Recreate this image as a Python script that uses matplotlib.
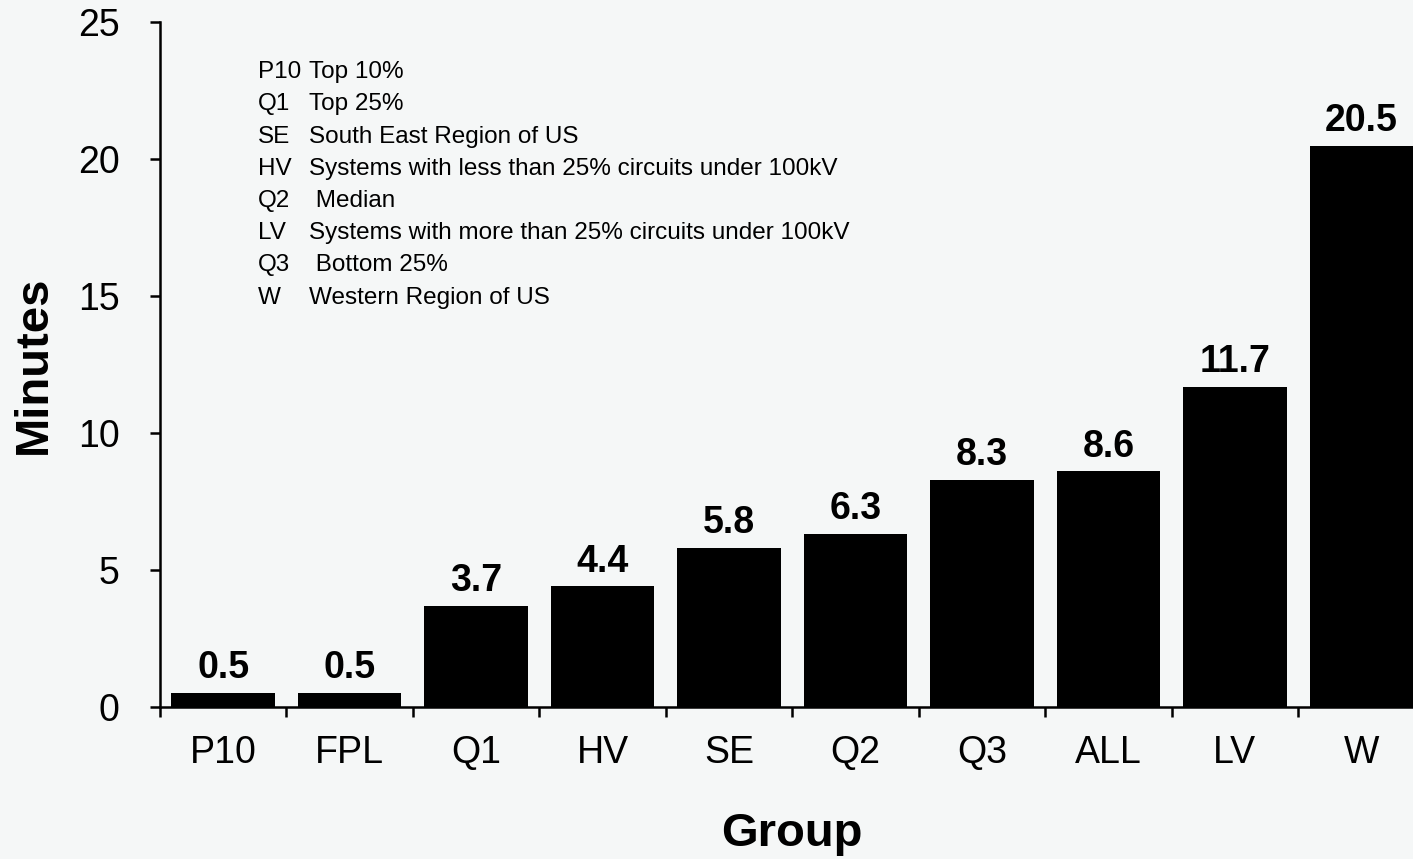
import matplotlib
matplotlib.use("Agg")
import matplotlib.pyplot as plt
import numpy as np

# data
groups = ["P10", "FPL", "Q1", "HV", "SE", "Q2", "Q3", "ALL", "LV", "W"]
minutes = [0.5, 0.5, 3.7, 4.4, 5.8, 6.3, 8.3, 8.6, 11.7, 20.5]
labels = ["0.5", "0.5", "3.7", "4.4", "5.8", "6.3", "8.3", "8.6", "11.7", "20.5"]

key_codes = ["P10", "Q1", "SE", "HV", "Q2", "LV", "Q3", "W"]
key_text = ["Top 10%", "Top 25%", "South East Region of US",
            "Systems with less than 25% circuits under 100kV", " Median",
            "Systems with more than 25% circuits under 100kV", " Bottom 25%",
            "Western Region of US"]

plt.rcParams['font.family'] = ['Liberation Sans', 'DejaVu Sans']
bg = '#f5f7f7'

fig = plt.figure(figsize=(14.13, 8.59), dpi=100, facecolor=bg)
# axes runs slightly past the right edge, as in the original
ax = fig.add_axes([0.1132, 0.177, 0.895, 0.797], facecolor=bg)

x = np.arange(len(groups))
bars = ax.bar(x, minutes, width=0.82, color='black', zorder=2)

# value labels above bars
for rect, lab in zip(bars, labels):
    ax.annotate(lab, (rect.get_x() + rect.get_width() / 2, rect.get_height()),
                xytext=(0, 5), textcoords='offset points',
                ha='center', va='bottom', fontsize=27, fontweight='bold')

ax.set_xlim(-0.5, len(groups) - 0.5)
ax.set_ylim(0, 25)
ax.set_yticks([0, 5, 10, 15, 20, 25])

# category labels at centres, tick marks at boundaries
ax.set_xticks(x)
ax.set_xticklabels(groups)
ax.set_xticks(np.arange(-0.5, len(groups), 1.0), minor=True)
ax.tick_params(axis='x', which='major', length=0, pad=20, labelsize=27)
ax.tick_params(axis='x', which='minor', length=7, width=1.8, direction='out')
ax.tick_params(axis='y', length=7, width=1.8, direction='out', pad=22, labelsize=27)

for s in ['top', 'right']:
    ax.spines[s].set_visible(False)
for s in ['left', 'bottom']:
    ax.spines[s].set_linewidth(1.8)

ax.set_ylabel('Minutes', fontsize=34, fontweight='bold', labelpad=16)
ax.set_xlabel('Group', fontsize=34, fontweight='bold', labelpad=30)

# key in upper left
for i, (code, txt) in enumerate(zip(key_codes, key_text)):
    yy = 0.916 - i * 0.0375
    fig.text(0.1825, yy, code, fontsize=17.5, va='center', ha='left')
    fig.text(0.2185, yy, txt, fontsize=17.5, va='center', ha='left')

fig.savefig('out.png', dpi=100, facecolor=bg)
